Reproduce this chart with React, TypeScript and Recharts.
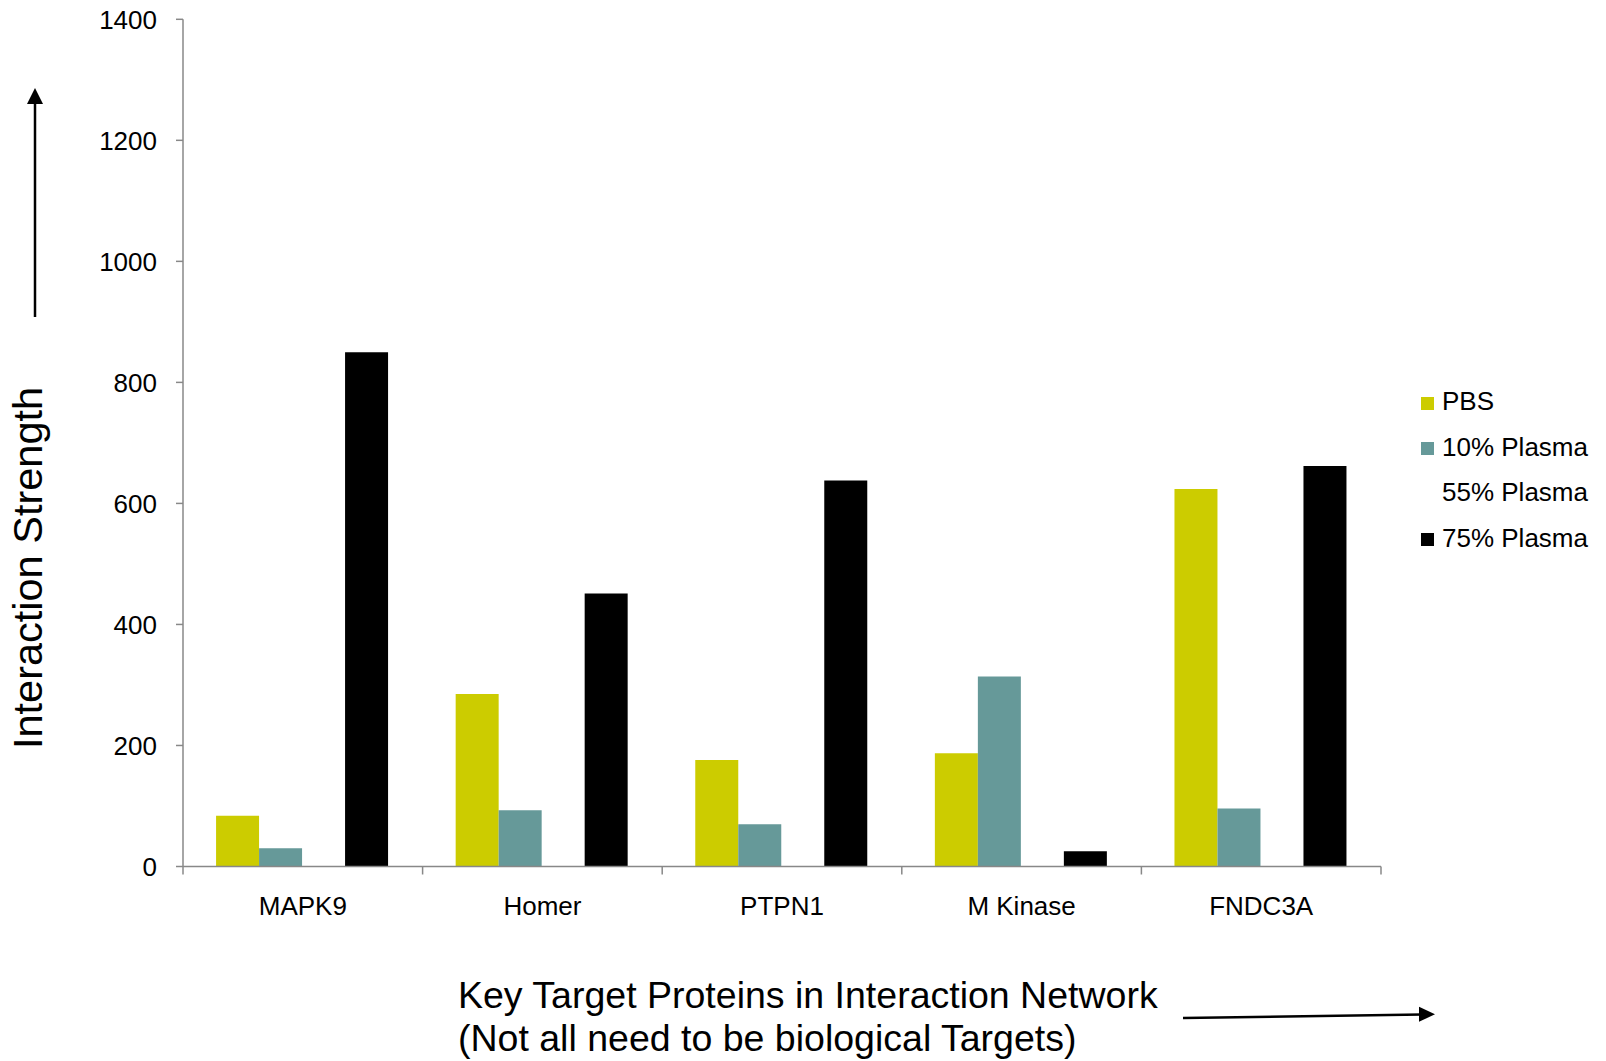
import React from 'react';
import { BarChart, Bar, XAxis, YAxis, Legend } from 'recharts';

// Protein targets along the x axis
const categories = ['MAPK9', 'Homer', 'PTPN1', 'M Kinase', 'FNDC3A'];

// Interaction strength per condition
const pbs = [84, 285, 176, 187, 624];
const plasma10 = [30, 93, 70, 314, 96];
const plasma55 = [0, 0, 0, 0, 0];
const plasma75 = [850, 451, 638, 25, 662];

const yTicks = [0, 200, 400, 600, 800, 1000, 1200, 1400];

const seriesKeys = ['pbs', 'plasma10', 'plasma55', 'plasma75'];
const seriesNames = ['PBS', '10% Plasma', '55% Plasma', '75% Plasma'];
const seriesColors = ['#CCCC00', '#669999', '#FFFFFF', '#000000'];

const data = categories.map((name, i) => ({
  name,
  pbs: pbs[i],
  plasma10: plasma10[i],
  plasma55: plasma55[i],
  plasma75: plasma75[i],
}));

const FONT = '"Liberation Sans", Arial, Helvetica, sans-serif';
const AXIS_COLOR = '#888888';
const X_TICK_SIZE = 8;
const X_TICK_MARGIN = 22;

// Category label centred in its band, with tick marks on the band edges
function CategoryTick(props: any) {
  const { x, y, payload, index } = props;
  const half = payload && typeof payload.offset === 'number' ? payload.offset : 0;
  const axisY = y - X_TICK_SIZE - X_TICK_MARGIN;
  const last = index === categories.length - 1;
  return (
    <g>
      <line x1={x - half} x2={x - half} y1={axisY} y2={axisY + X_TICK_SIZE} stroke={AXIS_COLOR} strokeWidth={1.5} />
      {last && (
        <line x1={x + half} x2={x + half} y1={axisY} y2={axisY + X_TICK_SIZE} stroke={AXIS_COLOR} strokeWidth={1.5} />
      )}
      <text x={x} y={y} dy="0.71em" textAnchor="middle" fontSize={26} fontFamily={FONT} fill="#000">
        {payload.value}
      </text>
    </g>
  );
}

// Legend in series order
function LegendList() {
  return (
    <div style={{ fontFamily: FONT, fontSize: 26, color: '#000' }}>
      {seriesNames.map((label, i) => (
        <div key={label} style={{ display: 'flex', alignItems: 'center', height: 45.5, lineHeight: '45.5px' }}>
          <span style={{ display: 'inline-block', width: 13, height: 13, background: seriesColors[i], marginRight: 8, marginTop: 3 }} />
          <span>{label}</span>
        </div>
      ))}
    </div>
  );
}

export default function App() {
  return (
    <div style={{ position: 'absolute', left: 0, top: 0, width: 1606, height: 1061, background: '#fff', fontFamily: FONT }}>
      <BarChart
        width={1606}
        height={1061}
        data={data}
        margin={{ top: 19.3, right: 225, bottom: 134.5, left: 103 }}
        barCategoryGap="13.8%"
        barGap={0}
      >
        <XAxis
          dataKey="name"
          interval={0}
          height={60}
          axisLine={{ stroke: AXIS_COLOR, strokeWidth: 1.5 }}
          tickLine={false}
          tickSize={X_TICK_SIZE}
          tickMargin={X_TICK_MARGIN}
          tick={<CategoryTick />}
        />
        <YAxis
          width={80}
          domain={[0, 1400]}
          ticks={yTicks}
          interval={0}
          axisLine={{ stroke: AXIS_COLOR, strokeWidth: 1.5 }}
          tickLine={{ stroke: AXIS_COLOR, strokeWidth: 1.5 }}
          tickSize={7}
          tickMargin={19}
          tick={{ fill: '#000', fontSize: 26, fontFamily: FONT }}
        />
        <Legend
          layout="vertical"
          align="center"
          verticalAlign="middle"
          content={<LegendList />}
          wrapperStyle={{ left: 1421, top: 379, width: 'auto', right: 'auto', bottom: 'auto' }}
        />
        {seriesKeys.map((key, i) => (
          <Bar key={key} dataKey={key} name={seriesNames[i]} fill={seriesColors[i]} isAnimationActive={false} />
        ))}
      </BarChart>

      {/* Axis titles with direction arrows */}
      <svg
        width={1606}
        height={1061}
        style={{ position: 'absolute', left: 0, top: 0, pointerEvents: 'none' }}
      >
        <line x1={35} y1={317} x2={35} y2={100} stroke="#000" strokeWidth={2.5} />
        <polygon points="35,88 27,104 43,104" fill="#000" />
        <text
          x={0}
          y={0}
          transform="translate(42,568) rotate(-90)"
          textAnchor="middle"
          fontSize={41.5}
          fontFamily={FONT}
          fill="#000"
        >
          Interaction Strength
        </text>

        <text x={458} y={1008} fontSize={37.5} fontFamily={FONT} fill="#000">
          Key Target Proteins in Interaction Network
        </text>
        <text x={458} y={1051} fontSize={37.5} fontFamily={FONT} fill="#000">
          (Not all need to be biological Targets)
        </text>
        <line x1={1183} y1={1018} x2={1422} y2={1014.5} stroke="#000" strokeWidth={2.5} />
        <polygon points="1435,1014.3 1419,1006.8 1419,1021.8" fill="#000" />
      </svg>
    </div>
  );
}
